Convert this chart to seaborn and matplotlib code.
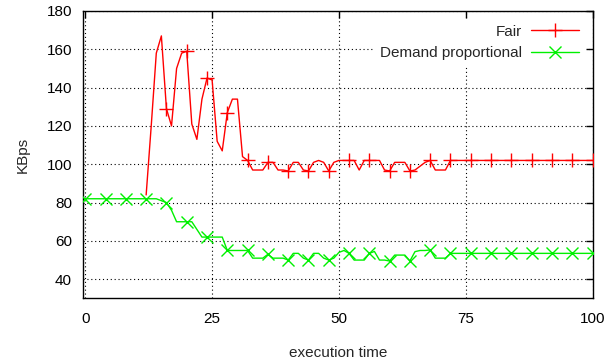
import numpy as np
import pandas as pd
import matplotlib
matplotlib.use("Agg")
import matplotlib.pyplot as plt
import seaborn as sns

time = list(range(0, 101))
fair_time = list(range(12, 101))

fair = [84, 120, 158, 167, 129, 120, 150, 158,
        159, 121, 113, 134, 145, 144, 112, 107, 127, 134,
        134, 104, 102, 97, 97, 97, 101, 101, 97, 97,
        96.5, 101, 101, 97, 96.5, 101, 102, 101, 96.5, 101,
        102, 102, 102, 102, 97, 102, 102, 102, 102, 97,
        96.5, 101, 101, 101, 96.5, 97, 99, 101, 102, 97,
        97, 97, 102] + [102] * 28

demand = [82, 82, 82, 82, 82, 82, 82, 82, 82, 82,
          82, 82, 82, 82, 82, 81, 80, 76, 70, 70,
          70, 70, 66, 62, 62, 62, 62, 62, 55, 55,
          55, 55, 55, 51, 51, 51, 53, 51, 51, 51,
          50, 53.5, 53.5, 51, 50, 53.5, 53.5, 51, 50, 51,
          54, 55, 53.5, 50, 50, 50, 53.5, 54.5, 50, 50,
          49.5, 52.6, 52.6, 52.6, 49.5, 54.4, 55, 55, 55.3, 51,
          51, 51, 53.5] + [53.5] * 28

series_names = ["Fair", "Demand proportional"]
x_ticks = [0, 25, 50, 75, 100]
y_ticks = [40, 60, 80, 100, 120, 140, 160, 180]

sns.set_style("white")
plt.rcParams['font.family'] = ['Liberation Sans', 'DejaVu Sans']

fig = plt.figure(figsize=(6.13, 3.63), dpi=100)
ax = fig.add_axes([0.1354, 0.178, 0.9666 - 0.1354, 0.9697 - 0.178])

df_fair = pd.DataFrame({"time": fair_time, "KBps": fair})
df_dem = pd.DataFrame({"time": time, "KBps": demand})

red = "#ff0000"
green = "#00f000"
sns.lineplot(data=df_fair, x="time", y="KBps", ax=ax, color=red, lw=1.0,
             marker="+", markersize=10, markeredgewidth=1.0,
             markevery=slice(4, None, 4),
             markeredgecolor=red, markerfacecolor=red,
             label=series_names[0], zorder=3)
sns.lineplot(data=df_dem, x="time", y="KBps", ax=ax, color=green, lw=1.0,
             marker="x", markersize=8, markeredgewidth=1.0, markevery=4,
             markeredgecolor=green, markerfacecolor=green,
             label=series_names[1], zorder=4)

ax.set_xlim(-0.45, 100)
ax.set_ylim(30, 180)
ax.set_xticks(x_ticks)
ax.set_yticks(y_ticks)
ax.grid(True, color="black", linestyle=(0, (1, 2.5)), linewidth=0.8)
ax.set_axisbelow(True)
for s in ax.spines.values():
    s.set_visible(True)
    s.set_color("black")
    s.set_linewidth(1.0)
ax.tick_params(direction="in", length=5, width=1, top=True, right=True,
               labelsize=11, colors="black", pad=8)
ax.tick_params(axis="x", pad=10)
ax.set_xlabel("execution time", fontsize=11, labelpad=14)
ax.set_ylabel("KBps", fontsize=11, labelpad=12)

leg = ax.legend(loc="upper right", markerfirst=False, frameon=True, fontsize=11,
                handlelength=3.1, handletextpad=0.6, borderaxespad=0.5,
                labelspacing=0.5, fancybox=False, numpoints=1)
leg.get_frame().set_facecolor("white")
leg.get_frame().set_edgecolor("white")
leg.get_frame().set_alpha(1)
for h in leg.legend_handles:
    h.set_markevery([1])

fig.savefig("out.png", dpi=100)
